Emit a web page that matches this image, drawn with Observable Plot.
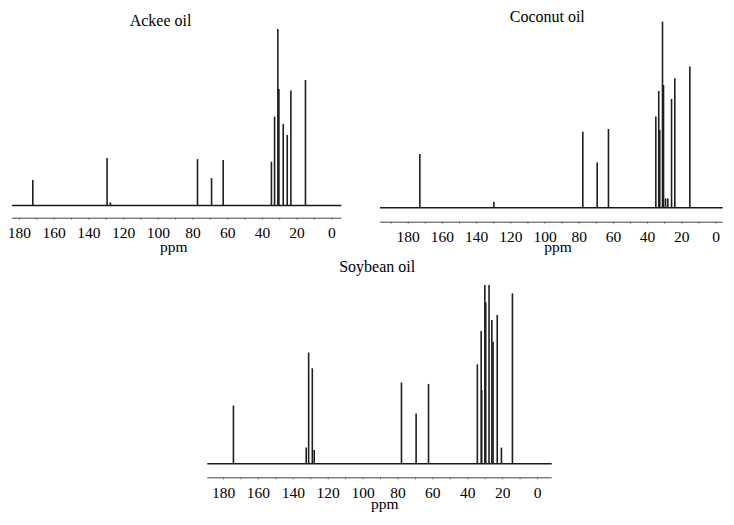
<!DOCTYPE html>
<html><head><meta charset="utf-8">
<script src="https://cdn.jsdelivr.net/npm/d3@7"></script>
<script src="https://cdn.jsdelivr.net/npm/@observablehq/plot@0.6"></script>
<style>
html,body{margin:0;padding:0;background:#fff;}
#root{position:relative;width:734px;height:525px;overflow:hidden;background:#fff;}
#root svg{position:absolute;background:transparent;}
#root svg text{font-family:"Liberation Serif","DejaVu Serif",serif !important;}
</style></head><body><div id="root"></div>
<script>
// ---- data ----
const tickLabels = [180, 160, 140, 120, 100, 80, 60, 40, 20, 0];
const minorTicks = [190, 170, 150, 130, 110, 90, 70, 50, 30, 10];

const ackeePpm = [172.3, 129.5, 127.6, 77.4, 69.3, 62.6, 34.8, 33.0, 31.1, 30.5, 28.0, 25.7, 23.6, 15.2];
const ackeeIntensity = [14.2, 26.7, 1.5, 26.1, 15.3, 25.6, 24.6, 50.2, 100, 65.9, 46.0, 39.8, 65.0, 71.0];

const coconutPpm = [173.2, 129.9, 77.9, 69.5, 62.9, 35.2, 33.5, 32.9, 31.3, 30.7, 29.5, 28.2, 26.0, 24.1, 15.3];
const coconutIntensity = [28.7, 3.0, 40.7, 24.2, 42.2, 48.9, 62.7, 41.7, 100, 65.9, 4.8, 4.8, 58.4, 69.5, 75.8];

const soybeanPpm = [174.3, 132.6, 131.2, 129.1, 128.0, 78.0, 69.6, 62.5, 34.5, 32.3, 32.0, 30.2, 29.7, 27.8, 26.2, 25.5, 23.1, 20.7, 14.4];
const soybeanIntensity = [32.4, 8.8, 62.1, 53.3, 7.5, 45.3, 28.0, 44.5, 55.5, 74.2, 41.1, 100, 90.3, 100, 80.4, 68.2, 83.2, 8.8, 95.3];

const titles = ["Ackee oil", "Coconut oil", "Soybean oil"];
const axisLabel = "ppm";

// ---- layout ----
const FONT = '"Liberation Serif", "DejaVu Serif", serif';
const panels = [
  {title: titles[0], ppm: ackeePpm, inten: ackeeIntensity,
   left: 0, top: 0, width: 352, height: 258,
   mL: 12, mR: 10.6, mT: 29, mB: 40.3, xDom: [184.0, -5.8], yMin: -7.2,
   tdx: -16.7, tdy: -9, pdx: -3.4, pdy: 28.5},
  {title: titles[1], ppm: coconutPpm, inten: coconutIntensity,
   left: 370, top: 0, width: 364, height: 260,
   mL: 10, mR: 11.3, mT: 21.7, mB: 38.3, xDom: [196.2, -4.2], yMin: -7.76,
   tdx: -4.6, tdy: -5, pdx: 6.3, pdy: 25.2},
  {title: titles[2], ppm: soybeanPpm, inten: soybeanIntensity,
   left: 180, top: 250, width: 380, height: 275,
   mL: 27.3, mR: 8.3, mT: 35, mB: 47.7, xDom: [189.0, -8.4], yMin: -7.85,
   tdx: -2.8, tdy: -18.7, pdx: 4.8, pdy: 26.2}
];

const root = document.getElementById("root");
for (const p of panels) {
  const peaks = p.ppm.map((x, i) => ({ppm: x, intensity: p.inten[i]}));
  const allTicks = tickLabels.concat(minorTicks).filter(t => t <= p.xDom[0] && t >= p.xDom[1]);
  const chart = Plot.plot({
    width: p.width, height: p.height,
    marginLeft: p.mL, marginRight: p.mR, marginTop: p.mT, marginBottom: p.mB,
    style: {fontFamily: FONT, background: "transparent", color: "#000"},
    x: {domain: p.xDom},
    y: {domain: [p.yMin, 100], axis: null},
    marks: [
      // axis line
      Plot.ruleY([p.yMin], {stroke: "#444", strokeWidth: 1}),
      Plot.axisX(allTicks, {
        tickSize: 2, tickPadding: 7, fontSize: 15.5, stroke: "#666", fill: "#000",
        fontFamily: FONT,
        tickFormat: d => tickLabels.includes(d) ? String(d) : "",
        label: null
      }),
      // spectrum baseline
      Plot.ruleY([0], {stroke: "#1a1a1a", strokeWidth: 1.6}),
      // peaks
      Plot.ruleX(peaks, {x: "ppm", y1: 0, y2: "intensity", stroke: "#1e1e1e", strokeWidth: 1.6}),
      // title
      Plot.text([p.title], {frameAnchor: "top", lineAnchor: "middle", dx: p.tdx, dy: p.tdy,
        text: d => d, fontSize: 16, fill: "#000", fontFamily: FONT}),
      // axis label
      Plot.text([axisLabel], {frameAnchor: "bottom", lineAnchor: "middle", dx: p.pdx, dy: p.pdy,
        text: d => d, fontSize: 15.5, fill: "#000", fontFamily: FONT})
    ]
  });
  chart.style.left = p.left + "px";
  chart.style.top = p.top + "px";
  root.appendChild(chart);
}
</script>
</body></html>
